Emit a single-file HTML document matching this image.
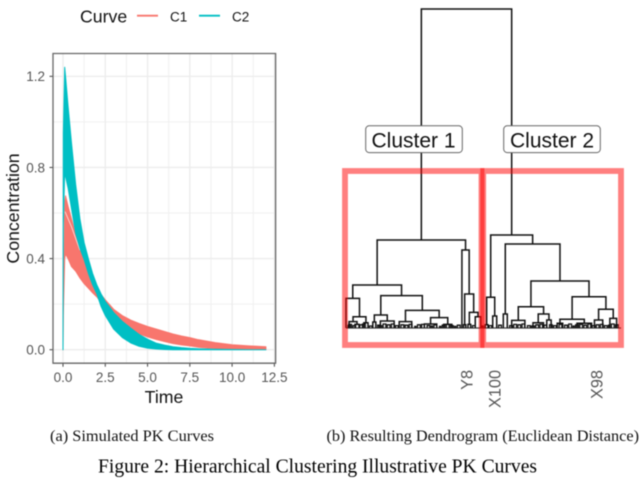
<!DOCTYPE html>
<html lang="en">
<head>
<meta charset="utf-8">
<title>Hierarchical Clustering Illustrative PK Curves</title>
<style>
html,body{margin:0;padding:0;background:#fff;width:640px;height:478px;overflow:hidden}
svg{display:block;filter:blur(.45px)}
.sans{font-family:"Liberation Sans",sans-serif}
.serif{font-family:"Liberation Serif",serif}
</style>
</head>
<body>
<svg id="figure" xmlns="http://www.w3.org/2000/svg" width="640" height="478" viewBox="0 0 640 478">
  <rect width="640" height="478" fill="#fff"/>
  <g id="pk-chart"></g>
  <text class="sans" transform="translate(19,208.5) rotate(-90)" text-anchor="middle" font-size="17.7" fill="#111">Concentration</text>
  <text class="sans" x="164" y="403" text-anchor="middle" font-size="17.7" fill="#111">Time</text>
  <g>
    <text class="sans" x="80" y="22.7" font-size="17.7" fill="#111">Curve</text>
    <line x1="137" x2="158" y1="15.7" y2="15.7" stroke="#F8766D" stroke-width="1.8"/>
    <text class="sans" x="170" y="21.5" font-size="13.5" fill="#111">C1</text>
    <line x1="199" x2="220" y1="15.7" y2="15.7" stroke="#00BFC4" stroke-width="1.8"/>
    <text class="sans" x="232" y="21.5" font-size="13.5" fill="#111">C2</text>
  </g>
  <g id="dendrogram"></g>
  <rect x="345" y="171" width="136.5" height="174" fill="none" stroke="#ff0000" stroke-opacity=".5" stroke-width="5.8"/>
  <rect x="483.2" y="171" width="137.8" height="174" fill="none" stroke="#ff0000" stroke-opacity=".5" stroke-width="5.8"/>
  <g>
    <rect x="365.7" y="125.8" width="96.6" height="26.8" rx="3.5" fill="#fff" stroke="#666" stroke-width="1"/>
    <text class="sans" x="413.5" y="147.5" text-anchor="middle" font-size="21" fill="#111">Cluster 1</text>
  </g>
  <g>
    <rect x="503.7" y="125.8" width="96.6" height="26.8" rx="3.5" fill="#fff" stroke="#666" stroke-width="1"/>
    <text class="sans" x="552" y="147.5" text-anchor="middle" font-size="21" fill="#111">Cluster 2</text>
  </g>
  <text class="sans" transform="translate(472.7,370) rotate(-90)" text-anchor="end" font-size="16.3" fill="#555">Y8</text>
  <text class="sans" transform="translate(500.7,370) rotate(-90)" text-anchor="end" font-size="16.3" fill="#555">X100</text>
  <text class="sans" transform="translate(602.7,370) rotate(-90)" text-anchor="end" font-size="16.3" fill="#555">X98</text>
  <text class="serif" x="50" y="441" font-size="16.3" textLength="164" lengthAdjust="spacingAndGlyphs" fill="#111">(a) Simulated PK Curves</text>
  <text class="serif" x="326.5" y="441" font-size="16.3" textLength="312.5" lengthAdjust="spacingAndGlyphs" fill="#111">(b) Resulting Dendrogram (Euclidean Distance)</text>
  <text class="serif" x="98" y="472.5" font-size="19.6" textLength="439" lengthAdjust="spacingAndGlyphs" fill="#000">Figure 2: Hierarchical Clustering Illustrative PK Curves</text>
</svg>
<script>
// ---- PK chart data ----
var timeGrid = [0,.02,.1,.15,.3,.5,.75,1,1.25,1.5,1.75,2,2.25,2.5,3,3.5,4,4.5,5,5.5,6,6.5,7,7.5,8,9,10,11,12];
var c1Upper = [0,.2,.64,.675,.63,.575,.505,.45,.39,.345,.3,.265,.242,.219,.177,.15,.13,.115,.102,.091,.08,.069,.06,.053,.044,.031,.022,.017,.013];
var c1Lower = [0,.15,.40,.42,.4,.365,.345,.315,.29,.27,.25,.232,.208,.186,.145,.117,.093,.07,.056,.045,.036,.027,.021,.017,.011,.005,.003,.002,.001];
var c2Upper = [0,.95,1.24,1.2,1.07,.91,.725,.575,.47,.40,.335,.285,.245,.212,.163,.125,.095,.067,.046,.029,.02,.013,.009,.006,.004,.002,.001,0,0];
var c2Lower = [0,.55,.78,.76,.71,.62,.51,.445,.395,.335,.285,.245,.19,.15,.09,.054,.03,.015,.007,.003,.001,0,0,0,0,0,0,0,0];
var c1GapTime = [.12,.5,1];
var c1GapValues = [.606,.54,.437];
var xTicks = [0,2.5,5,7.5,10,12.5];
var xTickLabels = ["0.0","2.5","5.0","7.5","10.0","12.5"];
var xMinorTicks = [1.25,3.75,6.25,8.75,11.25];
var yTicks = [0,.4,.8,1.2];
var yTickLabels = ["0.0","0.4","0.8","1.2"];
var yMinorTicks = [.2,.6,1];

// ---- Dendrogram data: nodes are [distance, left, right], leaves are leaf ranks ----
var dendrogramTree = [79.75,
  [22,
    [10.75,
      [7.4, 0, [2.8, [1.6,[.6,1.5,3],[.9,6.5,9.5]], [1.3,13,16]]],
      [8.1,
        [3.25,[1.5,19.5,21.7],[1.75,25,35]],
        [4.4,[1.6,38.7,47.8],[2.6,[1,57,66],[.9,71,77]]]]],
    [19.5,84.3,[8.5,[.8,85.5,87.1],[3.9,[.9,88.7,90.7],[2.8,94,98]]]]],
  [23.25,
    [7.7,[.8,101.3,103.3],[3,106.7,109.6]],
    [21,[3.5,114.4,117.3],
      [11.75,
        [5.3,[1.9,120.5,130.1],[3.5,[1.3,136,143.6],[2,146,149.2]]],
        [7.8,[2.2,[1.2,153.6,157.6],[1.2,168,178.6]],[4.7,[2,180.7,186.7],[2.4,191.9,196.8]]]]]]];
var tuftStarts = [2,5,10,12,17,23,24,27,30,33,36,40,43,46,50,52,55,59,62,64,68,70,73,76,79,81,92,99,104,111,119,122,125,128,132,135,138,141,144,148,151,155,159,162,165,167,170,173,176,179,182,185,188,191,193,196];
var tuftEnds   = [4,7,12,14,19,25,26,29,32,35,38,42,45,48,51,54,57,61,63,66,69,72,75,78,80,83,94,100,106,113,121,124,127,130,134,137,140,143,146,150,153,157,161,164,166,169,172,175,178,181,184,187,190,192,195,198];
var tuftHeights = [.9,.6,.8,1,.5,.7,.6,1,.8,1,.6,.8,.7,.9,.4,.8,.9,.6,.5,.8,.4,.7,.9,.6,.4,.7,.6,.5,.6,.7,.6,.9,.8,1,.6,.5,.8,.9,.7,.8,.6,.9,.7,1,.5,.8,.9,.7,1,.6,.8,.9,.6,.7,1,.8];

var NS = "http://www.w3.org/2000/svg";
function mk(parent, tag, attrs, text){
  var el = document.createElementNS(NS, tag);
  for (var k in attrs) el.setAttribute(k, attrs[k]);
  if (text !== undefined) el.textContent = text;
  parent.appendChild(el);
  return el;
}

// ---- PK chart axes ----
var panel = {left:53, right:275.6, top:53.5, bottom:363.2};
function xScale(t){ return 63 + t * 16.91; }
function yScale(c){ return 349.7 - c * 227.8; }
var chart = document.getElementById("pk-chart");
var el;
xMinorTicks.forEach(function(t){
  el = mk(chart,"line",{x1:xScale(t),x2:xScale(t),y1:panel.top,y2:panel.bottom,stroke:"#f0f0f0","stroke-width":1});
  
  
});
yMinorTicks.forEach(function(c){
  el = mk(chart,"line",{x1:panel.left,x2:panel.right,y1:yScale(c),y2:yScale(c),stroke:"#f0f0f0","stroke-width":1});
  
  
});
xTicks.forEach(function(t,i){
  el = mk(chart,"line",{x1:xScale(t),x2:xScale(t),y1:panel.top,y2:panel.bottom,stroke:"#ececec","stroke-width":1.3});
  
  
  el = mk(chart,"line",{x1:xScale(t),x2:xScale(t),y1:panel.bottom,y2:panel.bottom+3.5,stroke:"#444","stroke-width":1});
  
  
  el = mk(chart,"text",{x:xScale(t),y:382,"text-anchor":"middle","font-size":13.5,fill:"#555","class":"sans"},xTickLabels[i]);
  
  
});
yTicks.forEach(function(c,i){
  el = mk(chart,"line",{x1:panel.left,x2:panel.right,y1:yScale(c),y2:yScale(c),stroke:"#ececec","stroke-width":1.3});
  
  
  el = mk(chart,"line",{x1:panel.left-3.5,x2:panel.left,y1:yScale(c),y2:yScale(c),stroke:"#444","stroke-width":1});
  
  
  el = mk(chart,"text",{x:45,y:yScale(c)+4.8,"text-anchor":"end","font-size":13.5,fill:"#555","class":"sans"},yTickLabels[i]);
  
  
});
function bandPath(upper, lower){
  var d = "";
  for (var i=0;i<timeGrid.length;i++) d += (i?"L":"M")+xScale(timeGrid[i]).toFixed(2)+" "+yScale(upper[i]).toFixed(2);
  for (var j=timeGrid.length-1;j>=0;j--) d += "L"+xScale(timeGrid[j]).toFixed(2)+" "+yScale(lower[j]).toFixed(2);
  return d+"Z";
}
el = mk(chart,"path",{d:bandPath(c1Upper,c1Lower),fill:"#F8766D",stroke:"#F8766D","stroke-width":1,"stroke-linejoin":"round"});


var gapD = c1GapTime.map(function(t,i){ return (i?"L":"M")+xScale(t).toFixed(2)+" "+yScale(c1GapValues[i]).toFixed(2); }).join("");
el = mk(chart,"path",{d:gapD,fill:"none",stroke:"#fff","stroke-width":.8,"stroke-opacity":.8});


el = mk(chart,"path",{d:bandPath(c2Upper,c2Lower),fill:"#00BFC4",stroke:"#00BFC4","stroke-width":1,"stroke-linejoin":"round"});


el = mk(chart,"path",{d:"M"+panel.left+" "+panel.top+"H"+panel.right+"V"+panel.bottom+"H"+panel.left+"Z",fill:"none",stroke:"#666","stroke-width":1.3});



// ---- Dendrogram ----
function leafX(r){ return 346 + r * 1.375; }
function distY(h){ return 328 - h * 4; }
var dendro = document.getElementById("dendrogram");
el = mk(dendro,"line",{x1:leafX(0),x2:leafX(200),y1:distY(0),y2:distY(0),stroke:"#111","stroke-width":1.2,"stroke-opacity":.8});


tuftStarts.forEach(function(s,i){
  var d = "M"+leafX(s)+" "+distY(0)+"V"+distY(tuftHeights[i])+"H"+leafX(tuftEnds[i])+"V"+distY(0);
  el = mk(dendro,"path",{d:d,fill:"none",stroke:"#111","stroke-width":1.3});
  
  
});
function drawNode(node){
  if (typeof node === "number") return {rank:node,h:0};
  var a = drawNode(node[1]), b = drawNode(node[2]);
  var d = "M"+leafX(a.rank)+" "+distY(a.h)+"V"+distY(node[0])+"H"+leafX(b.rank)+"V"+distY(b.h);
  var seg = mk(dendro,"path",{d:d,fill:"none",stroke:"#111","stroke-width":1.5});
  
  
  return {rank:(a.rank+b.rank)/2,h:node[0]};
}
drawNode(dendrogramTree);
</script>
</body>
</html>
